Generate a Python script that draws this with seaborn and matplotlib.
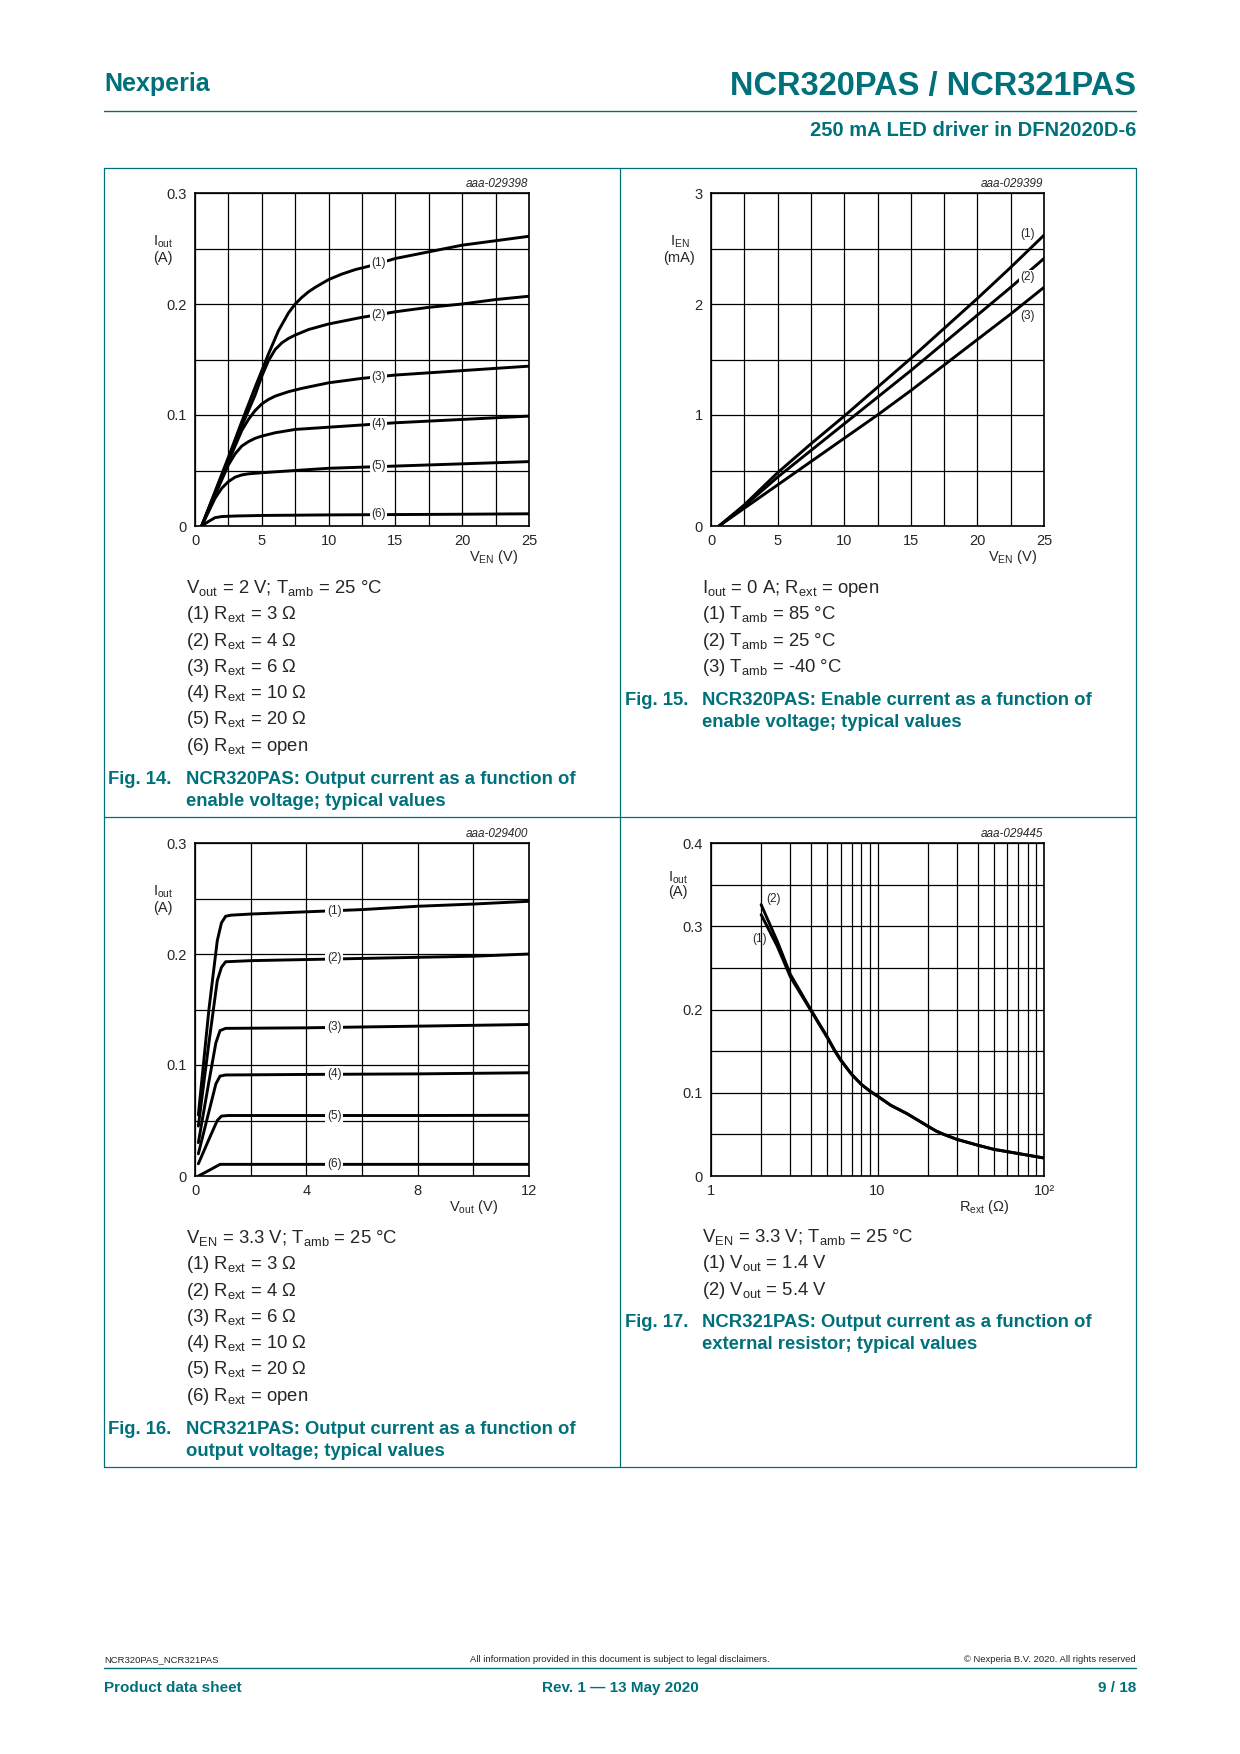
import numpy as np
import pandas as pd
import seaborn as sns
import matplotlib.pyplot as plt
from matplotlib.ticker import MultipleLocator, LogLocator, NullFormatter, FuncFormatter, FixedLocator, FixedFormatter
from matplotlib.lines import Line2D

sns.set_style("white")
plt.rcParams['font.family'] = ['Liberation Sans', 'DejaVu Sans']
plt.rcParams['mathtext.default'] = 'regular'

# ---- Fig. 14: Iout vs VEN (NCR320PAS) ----
f14_v1 = [0.5, 1.5, 2.5, 3.5, 4.5, 5.5, 6.25, 7, 7.5, 8, 8.5, 9, 10, 11, 12, 13, 15, 17.5, 20, 22.5, 25]
f14_i1 = [0, 0.031, 0.062, 0.094, 0.125, 0.155, 0.176, 0.192, 0.200, 0.206, 0.211, 0.215, 0.222, 0.227, 0.231, 0.234, 0.241, 0.247, 0.253, 0.257, 0.261]
f14_v2 = [0.5, 1.5, 2.5, 3.5, 4.5, 5, 5.5, 6, 6.5, 7, 7.5, 8.5, 10, 12.5, 15, 17.5, 20, 22.5, 25]
f14_i2 = [0, 0.030, 0.060, 0.090, 0.118, 0.135, 0.149, 0.159, 0.165, 0.169, 0.172, 0.177, 0.182, 0.188, 0.193, 0.197, 0.200, 0.204, 0.207]
f14_v3 = [0.5, 1.5, 2.5, 3.5, 4, 4.5, 5, 5.5, 6, 7, 8, 10, 12.5, 15, 20, 25]
f14_i3 = [0, 0.029, 0.058, 0.086, 0.096, 0.104, 0.110, 0.114, 0.117, 0.121, 0.124, 0.129, 0.133, 0.136, 0.140, 0.144]
f14_v4 = [0.5, 1.5, 2.5, 3, 3.5, 4, 4.5, 5, 6, 7.5, 10, 12.5, 15, 20, 25]
f14_i4 = [0, 0.028, 0.055, 0.065, 0.072, 0.076, 0.079, 0.081, 0.084, 0.087, 0.089, 0.091, 0.093, 0.096, 0.099]
f14_v5 = [0.5, 1.5, 2, 2.5, 3, 3.5, 4, 5, 7.5, 10, 15, 20, 25]
f14_i5 = [0, 0.025, 0.034, 0.040, 0.044, 0.046, 0.047, 0.048, 0.050, 0.052, 0.054, 0.056, 0.058]
f14_v6 = [0.5, 1, 1.5, 2, 3, 5, 10, 15, 20, 25]
f14_i6 = [0, 0.004, 0.0075, 0.0085, 0.009, 0.0095, 0.010, 0.0103, 0.0106, 0.011]
f14_lab_x = [13.75] * 6
f14_lab_y = [0.237, 0.190, 0.134, 0.092, 0.0545, 0.0105]

# ---- Fig. 15: IEN vs VEN ----
f15_v = [0.6, 2.5, 5, 7.5, 10, 12.5, 15, 17.5, 20, 22.5, 25]
f15_i1 = [0, 0.19, 0.48, 0.74, 0.99, 1.25, 1.51, 1.78, 2.05, 2.33, 2.62]
f15_i2 = [0, 0.18, 0.44, 0.68, 0.92, 1.16, 1.40, 1.65, 1.90, 2.15, 2.41]
f15_i3 = [0, 0.16, 0.37, 0.58, 0.79, 1.00, 1.22, 1.45, 1.68, 1.91, 2.15]
f15_lab_x = [23.75, 23.75, 23.75]
f15_lab_y = [2.63, 2.24, 1.89]

# ---- Fig. 16: Iout vs Vout (NCR321PAS) ----
f16_v1 = [0.12, 0.5, 0.8, 0.95, 1.1, 1.3, 2, 4, 6, 8, 10, 12]
f16_i1 = [0.055, 0.150, 0.212, 0.228, 0.234, 0.235, 0.236, 0.238, 0.240, 0.243, 0.245, 0.2475]
f16_v2 = [0.12, 0.5, 0.8, 0.95, 1.1, 2, 4, 6, 8, 10, 12]
f16_i2 = [0.045, 0.120, 0.176, 0.188, 0.193, 0.194, 0.195, 0.196, 0.197, 0.198, 0.200]
f16_v3 = [0.12, 0.5, 0.75, 0.9, 1.1, 4, 8, 12]
f16_i3 = [0.030, 0.085, 0.120, 0.131, 0.133, 0.1335, 0.135, 0.1365]
f16_v4 = [0.12, 0.5, 0.75, 0.9, 1.1, 4, 8, 12]
f16_i4 = [0.020, 0.058, 0.083, 0.090, 0.091, 0.0915, 0.092, 0.093]
f16_v5 = [0.12, 0.5, 0.8, 0.95, 1.2, 4, 8, 12]
f16_i5 = [0.011, 0.033, 0.050, 0.054, 0.0545, 0.0545, 0.0545, 0.0547]
f16_v6 = [0.12, 0.5, 0.9, 1.2, 4, 12]
f16_i6 = [0.0, 0.005, 0.0105, 0.0105, 0.0105, 0.0105]
f16_lab_x = [5.0] * 6
f16_lab_y = [0.239, 0.196, 0.134, 0.092, 0.0545, 0.0105]

# ---- Fig. 17: Iout vs Rext (NCR321PAS) ----
f17_r2 = [2, 2.5, 3, 3.5, 4, 4.5, 5, 5.5, 6, 7, 8, 9, 10, 12, 15, 17.5, 20, 22.5, 25, 30, 40, 50, 70, 100]
f17_i2 = [0.326, 0.282, 0.242, 0.219, 0.199, 0.182, 0.167, 0.152, 0.140, 0.122, 0.110, 0.102, 0.096, 0.085, 0.075, 0.067, 0.060, 0.054, 0.050, 0.044, 0.037, 0.032, 0.027, 0.0216]
f17_r1 = [2, 2.5, 3, 3.5, 4, 4.5, 5, 5.5, 6, 7, 8, 9, 10, 12, 15, 17.5, 20, 22.5, 25, 30, 40, 50, 70, 100]
f17_i1 = [0.314, 0.276, 0.239, 0.217, 0.198, 0.181, 0.166, 0.151, 0.139, 0.122, 0.110, 0.102, 0.096, 0.085, 0.075, 0.067, 0.060, 0.054, 0.050, 0.044, 0.037, 0.032, 0.027, 0.0216]
f17_lab_x = [1.95, 2.37]
f17_lab_y = [0.285, 0.333]

curve_labels = ["(1)", "(2)", "(3)", "(4)", "(5)", "(6)"]

TEAL = "#00717a"
W, H = 1240, 1754


def fx(x):
    return x / W


def fy(y):
    return 1 - y / H


fig = plt.figure(figsize=(12.4, 17.54), dpi=100)


def make_ax(left, top, right, bottom):
    return fig.add_axes([fx(left), fy(bottom), (right - left) / W, (bottom - top) / H])


def style(ax, xlim, ylim, xmaj, xmin, ymaj, ymin):
    ax.set_xlim(*xlim)
    ax.set_ylim(*ylim)
    if xmaj is not None:
        ax.xaxis.set_major_locator(MultipleLocator(xmaj))
        ax.xaxis.set_minor_locator(MultipleLocator(xmin))
        ax.xaxis.set_major_formatter(FuncFormatter(lambda v, p: f"{v:g}"))
    ax.yaxis.set_major_locator(MultipleLocator(ymaj))
    ax.yaxis.set_minor_locator(MultipleLocator(ymin))
    ax.yaxis.set_major_formatter(FuncFormatter(lambda v, p: f"{v:g}"))
    ax.set_axisbelow(True)
    ax.grid(which='both', color='black', lw=0.9)
    ax.tick_params(which='both', length=0, labelsize=10.5, pad=6)
    for s in ax.spines.values():
        s.set_color('black')
        s.set_linewidth(1.2)
    ax.set_xlabel('')
    ax.set_ylabel('')


def line(ax, x, y):
    sns.lineplot(x=x, y=y, ax=ax, color='black', linewidth=2.1, sort=False, estimator=None)


def lab_box(ax, x, y, t):
    ax.text(x, y, t, fontsize=8.5, ha='center', va='center', zorder=5,
            bbox=dict(boxstyle='square,pad=0.12', fc='white', ec='none'))


def axis_texts(ax, xl, xr, yl1, yl2, ylx, yly1, yly2, fid):
    ax.text(xr, -0.105, xl, transform=ax.transAxes, ha='right', va='baseline', fontsize=10.5)
    ax.text(ylx, yly1, yl1, transform=ax.transAxes, ha='center', va='baseline', fontsize=10.5)
    ax.text(ylx, yly2, yl2, transform=ax.transAxes, ha='center', va='baseline', fontsize=10.5)
    ax.text(0.998, 1.018, fid, transform=ax.transAxes, ha='right', va='baseline',
            fontsize=8.5, style='italic')


# Fig. 14
ax1 = make_ax(195, 193, 529, 526)
style(ax1, (0, 25), (0, 0.3), 5, 2.5, 0.1, 0.05)
for v, i in [(f14_v1, f14_i1), (f14_v2, f14_i2), (f14_v3, f14_i3),
             (f14_v4, f14_i4), (f14_v5, f14_i5), (f14_v6, f14_i6)]:
    line(ax1, v, i)
for x, y, t in zip(f14_lab_x, f14_lab_y, curve_labels):
    lab_box(ax1, x, y, t)
axis_texts(ax1, r"$V_{EN}$ (V)", 0.967, r"$I_{out}$", "(A)", -0.096, 0.841, 0.793, "aaa-029398")

# Fig. 15
ax2 = make_ax(711, 193, 1044, 526)
style(ax2, (0, 25), (0, 3), 5, 2.5, 1, 0.5)
for i in [f15_i1, f15_i2, f15_i3]:
    line(ax2, f15_v, i)
for x, y, t in zip(f15_lab_x, f15_lab_y, curve_labels[:3]):
    if t == "(2)":
        lab_box(ax2, x, y, t)
    else:
        ax2.text(x, y, t, fontsize=8.5, ha='center', va='center')
axis_texts(ax2, r"$V_{EN}$ (V)", 0.978, r"$I_{EN}$", "(mA)", -0.095, 0.841, 0.793, "aaa-029399")

# Fig. 16
ax3 = make_ax(195, 843, 529, 1176)
style(ax3, (0, 12), (0, 0.3), 4, 2, 0.1, 0.05)
for v, i in [(f16_v1, f16_i1), (f16_v2, f16_i2), (f16_v3, f16_i3),
             (f16_v4, f16_i4), (f16_v5, f16_i5), (f16_v6, f16_i6)]:
    line(ax3, v, i)
for x, y, t in zip(f16_lab_x, f16_lab_y, curve_labels):
    lab_box(ax3, x, y, t)
axis_texts(ax3, r"$V_{out}$ (V)", 0.908, r"$I_{out}$", "(A)", -0.096, 0.841, 0.793, "aaa-029400")

# Fig. 17
ax4 = make_ax(711, 843, 1044, 1176)
ax4.set_xscale('log')
style(ax4, (1, 100), (0, 0.4), None, None, 0.1, 0.05)
ax4.xaxis.set_major_locator(FixedLocator([1, 10, 100]))
ax4.xaxis.set_major_formatter(FixedFormatter(["1", "10", "10\u00b2"]))
ax4.xaxis.set_minor_locator(LogLocator(base=10, subs=range(2, 10)))
ax4.xaxis.set_minor_formatter(NullFormatter())
ax4.grid(which='both', color='black', lw=0.9)
line(ax4, f17_r1, f17_i1)
line(ax4, f17_r2, f17_i2)
for x, y, t in zip(f17_lab_x, f17_lab_y, curve_labels[:2]):
    ax4.text(x, y, t, fontsize=8.5, ha='center', va='center')
axis_texts(ax4, r"$R_{ext}$ ($\Omega$)", 0.898, r"$I_{out}$", "(A)", -0.1, 0.884, 0.841, "aaa-029445")
ax4.set_xlabel('')

# ---- page furniture ----
def hline(y, x0, x1, lw=1.0):
    fig.add_artist(Line2D([fx(x0), fx(x1)], [fy(y), fy(y)], transform=fig.transFigure, color=TEAL, lw=lw))


def vline(x, y0, y1, lw=1.0):
    fig.add_artist(Line2D([fx(x), fx(x)], [fy(y0), fy(y1)], transform=fig.transFigure, color=TEAL, lw=lw))


fig.text(fx(104), fy(84), "Nexperia", color=TEAL, fontsize=18, fontweight='bold', ha='left', va='center')
fig.text(fx(1136), fy(87), "NCR320PAS / NCR321PAS", color=TEAL, fontsize=23.5, fontweight='bold', ha='right', va='center')
hline(111, 104, 1136)
fig.text(fx(1136), fy(131), "250 mA LED driver in DFN2020D-6", color=TEAL, fontsize=14.5, fontweight='bold', ha='right', va='center')

# boxes
hline(168, 104, 1136, 0.9)
hline(817, 104, 1136, 0.9)
hline(1467, 104, 1136, 0.9)
vline(104, 168, 1467, 0.9)
vline(620, 168, 1467, 0.9)
vline(1136, 168, 1467, 0.9)

FS = 13.3
cond14 = [r"$V_{out}$ = 2 V; $T_{amb}$ = 25 °C", r"(1) $R_{ext}$ = 3 Ω", r"(2) $R_{ext}$ = 4 Ω",
          r"(3) $R_{ext}$ = 6 Ω", r"(4) $R_{ext}$ = 10 Ω", r"(5) $R_{ext}$ = 20 Ω", r"(6) $R_{ext}$ = open"]
cond15 = [r"$I_{out}$ = 0 A; $R_{ext}$ = open", r"(1) $T_{amb}$ = 85 °C", r"(2) $T_{amb}$ = 25 °C",
          r"(3) $T_{amb}$ = -40 °C"]
cond16 = [r"$V_{EN}$ = 3.3 V; $T_{amb}$ = 25 °C", r"(1) $R_{ext}$ = 3 Ω", r"(2) $R_{ext}$ = 4 Ω",
          r"(3) $R_{ext}$ = 6 Ω", r"(4) $R_{ext}$ = 10 Ω", r"(5) $R_{ext}$ = 20 Ω", r"(6) $R_{ext}$ = open"]
cond17 = [r"$V_{EN}$ = 3.3 V; $T_{amb}$ = 25 °C", r"(1) $V_{out}$ = 1.4 V", r"(2) $V_{out}$ = 5.4 V"]


def cond_block(lines, x, y0, step=26.3):
    for k, t in enumerate(lines):
        fig.text(fx(x), fy(y0 + k * step), t, fontsize=FS, ha='left', va='baseline')


def caption(num, l1, l2, x0, x1, y0):
    fig.text(fx(x0), fy(y0), num, fontsize=FS, color=TEAL, fontweight='bold', ha='left', va='baseline')
    fig.text(fx(x1), fy(y0), l1, fontsize=FS, color=TEAL, fontweight='bold', ha='left', va='baseline')
    fig.text(fx(x1), fy(y0 + 22), l2, fontsize=FS, color=TEAL, fontweight='bold', ha='left', va='baseline')


cond_block(cond14, 186, 593)
caption("Fig. 14.", "NCR320PAS: Output current as a function of", "enable voltage; typical values", 108, 186, 784)
cond_block(cond15, 702, 593)
caption("Fig. 15.", "NCR320PAS: Enable current as a function of", "enable voltage; typical values", 625, 702, 705)
cond_block(cond16, 186, 1243)
caption("Fig. 16.", "NCR321PAS: Output current as a function of", "output voltage; typical values", 108, 186, 1434)
cond_block(cond17, 702, 1242)
caption("Fig. 17.", "NCR321PAS: Output current as a function of", "external resistor; typical values", 625, 702, 1327)

# footer
fig.text(fx(104), fy(1660), "NCR320PAS_NCR321PAS", fontsize=6.8, ha='left', va='center')
fig.text(fx(620), fy(1660), "All information provided in this document is subject to legal disclaimers.", fontsize=6.8, ha='center', va='center')
fig.text(fx(1136), fy(1660), "© Nexperia B.V. 2020. All rights reserved", fontsize=6.8, ha='right', va='center')
hline(1668, 104, 1136)
fig.text(fx(104), fy(1688), "Product data sheet", color=TEAL, fontsize=11, fontweight='bold', ha='left', va='center')
fig.text(fx(620), fy(1688), "Rev. 1 — 13 May 2020", color=TEAL, fontsize=11, fontweight='bold', ha='center', va='center')
fig.text(fx(1136), fy(1688), "9 / 18", color=TEAL, fontsize=11, fontweight='bold', ha='right', va='center')

fig.savefig("out.png", dpi=100)
